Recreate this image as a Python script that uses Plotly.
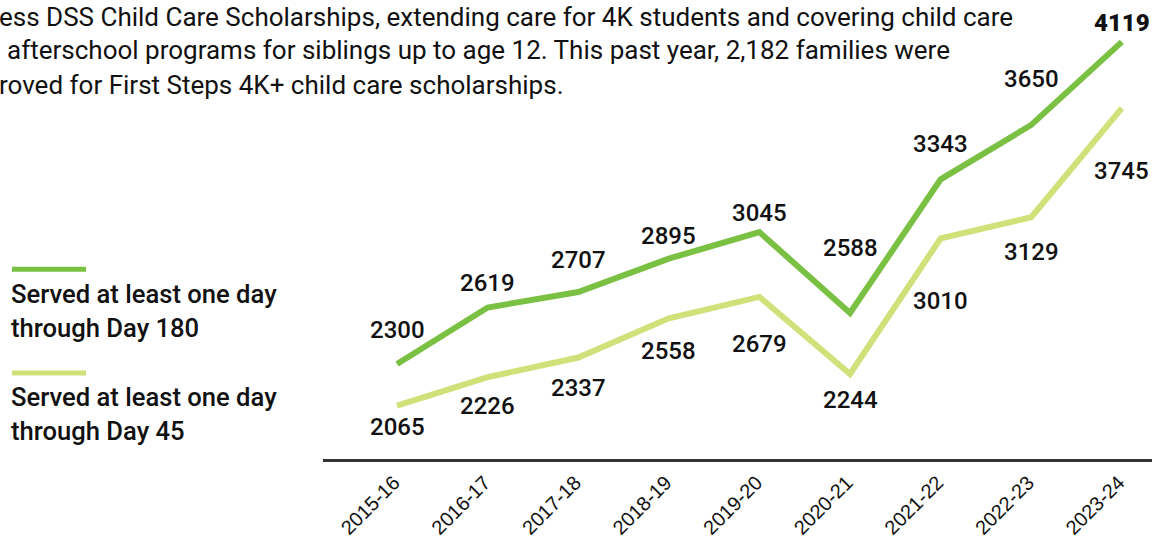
import plotly.graph_objects as go

# ---- data ----
years = ["2015-16", "2016-17", "2017-18", "2018-19", "2019-20",
         "2020-21", "2021-22", "2022-23", "2023-24"]
day180 = [2300, 2619, 2707, 2895, 3045, 2588, 3343, 3650, 4119]
day45 = [2065, 2226, 2337, 2558, 2679, 2244, 3010, 3129, 3745]
legend_180 = ["Served at least one day", "through Day 180"]
legend_45 = ["Served at least one day", "through Day 45"]
header_lines = [
    "ess DSS Child Care Scholarships, extending care for 4K students and covering child care",
    "afterschool programs for siblings up to age 12. This past year, 2,182 families were",
    "roved for First Steps 4K+ child care scholarships.",
]

# ---- styles ----
DARK = "#7AC143"
LIGHT = "#D0E17A"
INK = "#111111"
FONT = "Roboto"
W, H = 1156, 543
L, R, T, B = 323, 1152, 10, 461          # plot area in px
x_range = [-0.817, 8.333]
y_range = [1764, 4299]

# per-label vertical offsets (px, positive = up)
off180 = [34, 25, 32, 23, 19, 65, 35, 46, 19]
off45 = [-21, -29, -30, -33, -47, -26, -63, -35, -63]


def px_x(p):
    return (p - L) / (R - L)


def px_y(p):
    return (B - p) / (B - T)


xs = list(range(len(years)))

fig = go.Figure()
fig.add_trace(go.Scatter(x=xs, y=day45, mode="lines",
                         line=dict(color=LIGHT, width=6),
                         name=" ".join(legend_45), showlegend=False,
                         hoverinfo="skip"))
fig.add_trace(go.Scatter(x=xs, y=day180, mode="lines",
                         line=dict(color=DARK, width=6),
                         name=" ".join(legend_180), showlegend=False,
                         hoverinfo="skip"))

annotations = []
for i, v in enumerate(day180):
    last = i == len(day180) - 1
    annotations.append(dict(
        x=i, y=v, xref="x", yref="y", showarrow=False, text=str(v),
        font=dict(family=FONT, size=24, color=INK,
                  weight=900 if last else 500),
        xanchor="center", yanchor="middle", yshift=off180[i]))
for i, v in enumerate(day45):
    annotations.append(dict(
        x=i, y=v, xref="x", yref="y", showarrow=False, text=str(v),
        font=dict(family=FONT, size=24, color=INK, weight=500),
        xanchor="center", yanchor="middle", yshift=off45[i]))

# legend (custom)
shapes = []
for (bar_y, lines, color, text_ys) in [
        (270.5, legend_180, DARK, [295, 329]),
        (374.5, legend_45, LIGHT, [399, 433])]:
    shapes.append(dict(type="line", xref="paper", yref="paper",
                       x0=px_x(12), x1=px_x(86), y0=px_y(bar_y), y1=px_y(bar_y),
                       line=dict(color=color, width=5)))
    for txt, ty in zip(lines, text_ys):
        annotations.append(dict(
            x=px_x(9), y=px_y(ty), xref="paper", yref="paper",
            showarrow=False, text=txt, xanchor="left", yanchor="middle",
            font=dict(family=FONT, size=25.6, color=INK, weight=500)))

# header paragraph
for txt, tx, ty in zip(header_lines, [-2, 6, -2], [17, 50, 85]):
    annotations.append(dict(
        x=px_x(tx), y=px_y(ty), xref="paper", yref="paper",
        showarrow=False, text=txt, xanchor="left", yanchor="middle",
        borderpad=0,
        font=dict(family=FONT, size=26, color=INK, weight=400)))

fig.update_layout(
    width=W, height=H,
    margin=dict(l=L, r=W - R, t=T, b=H - B, pad=0),
    paper_bgcolor="white", plot_bgcolor="white",
    showlegend=False,
    annotations=annotations,
    shapes=shapes,
    xaxis=dict(range=x_range, tickmode="array", tickvals=xs, ticktext=years,
               tickangle=-45, showgrid=False, zeroline=False,
               showline=True, linecolor="#333333", linewidth=3,
               ticks="", tickfont=dict(family="Arial", size=20, color=INK),
               ticklabelstandoff=1, ticklabelshift=-3,
               fixedrange=True),
    yaxis=dict(range=y_range, visible=False, showgrid=False,
               zeroline=False, fixedrange=True),
)

fig.write_html("out.html", config={"displayModeBar": False},
               post_script="document.body.style.margin='0';")
